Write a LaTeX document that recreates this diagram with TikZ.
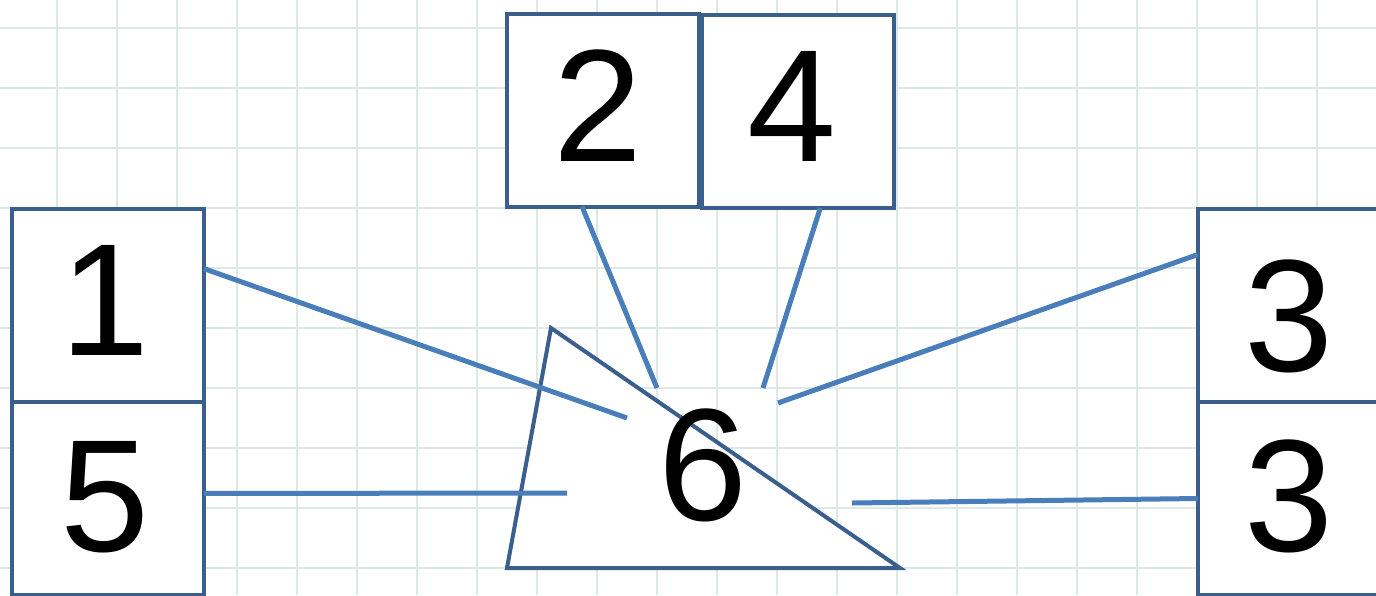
\documentclass[tikz,border=0pt]{standalone}
\usepackage{fontspec}
\setmainfont{Liberation Sans}
\definecolor{gridc}{HTML}{DDEAE3}
\definecolor{boxc}{HTML}{3A5F8D}
\definecolor{linkc}{HTML}{4A7EBB}
\begin{document}
\begin{tikzpicture}[x=0.5pt,y=-0.5pt,
  numbox/.style={draw=boxc,line width=2pt,fill=white,minimum width=96pt,minimum height=96.5pt,inner sep=0pt,outer sep=0pt},
  digit/.style={anchor=base,inner sep=0pt,font=\fontsize{80}{96}\selectfont},
  link/.style={draw=linkc,line width=2.5pt}]
\useasboundingbox (0,0) rectangle (1376,595);
\clip (0,0) rectangle (1376,595);
\fill[white] (0,0) rectangle (1376,595);
\foreach \x in {57,117,...,1377} \draw[gridc,line width=1pt] (\x,0) -- (\x,595);
\foreach \y in {28,88,...,595} \draw[gridc,line width=1pt] (0,\y) -- (1376,\y);
% boxes
\node[numbox] (b1) at (108,305.5) {};
\node[numbox] (b5) at (108,498.5) {};
\node[numbox] (b2) at (602.5,110) {};
\node[numbox] (b4) at (798,111.5) {};
\node[numbox] (b3a) at (1294,305.5) {};
\node[numbox] (b3b) at (1294,498.5) {};
% triangle
\draw[boxc,line width=2pt,fill=white,line join=miter] (551,328) -- (507,568) -- (900,568) -- cycle;
% link ends near 6
\coordinate (e1) at (627,418);
\coordinate (e5) at (567,493);
\coordinate (e2) at (657,388);
\coordinate (e4) at (763,388);
\coordinate (e3a) at (778,403);
\coordinate (e3b) at (852,503);
\draw[link] (b1.21) -- (e1);
\draw[link] (b5.3) -- (e5);
\draw[link] (b2.258) -- (e2);
\draw[link] (b4.283) -- (e4);
\draw[link] (b3a.152) -- (e3a);
\draw[link] (b3b.180) -- (e3b);
% digits
\node[digit] (t1) at (105,355) {1};
\node[digit] (t5) at (105,551) {5};
\node[digit] (t2) at (598,161) {2};
\node[digit] (t4) at (792,161) {4};
\node[digit] (t3a) at (1289,371) {3};
\node[digit] (t3b) at (1289,551) {3};
\node[digit] (t6) at (703,520) {6};
\end{tikzpicture}
\end{document}
